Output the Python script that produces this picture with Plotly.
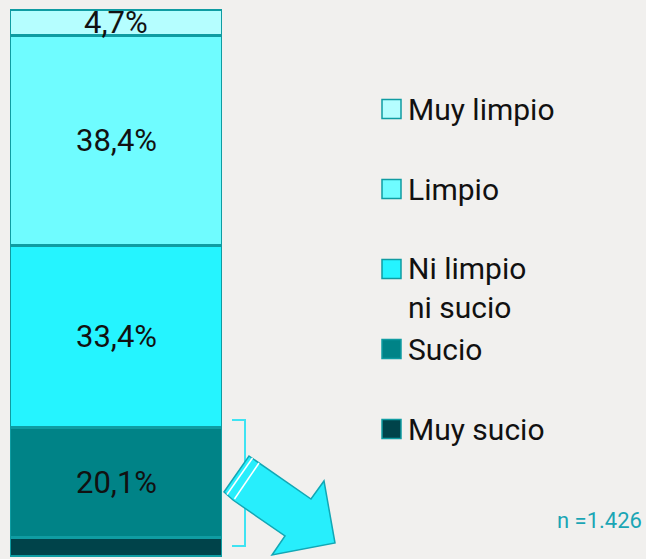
"""
Single stacked bar: perceived cleanliness, with a hand-drawn style legend.
"""

import plotly.graph_objects as go

W, H = 646, 559

# Data (bottom to top of the stack)
categories = ['Muy sucio', 'Sucio', 'Ni limpio<br>ni sucio', 'Limpio', 'Muy limpio']
values = [3.4, 20.1, 33.4, 38.4, 4.7]
labels = ['', '20,1%', '33,4%', '38,4%', '4,7%']
colors = ['#00434a', '#008387', '#25f4ff', '#6ffcff', '#b5feff']

BORDER = '#0f9ca2'
BG = '#f1f0ee'
FONT = "Roboto, 'DejaVu Sans', sans-serif"


def px(x):
    return x / W


def py(y):
    return 1 - y / H


fig = go.Figure()

for cat, val, col in zip(categories, values, colors):
    fig.add_trace(go.Bar(
        x=[0],
        y=[val],
        name=cat.replace('<br>', ' '),
        marker=dict(color=col, line=dict(color=BORDER, width=2.5)),
        width=1,
        showlegend=False,
        hoverinfo='skip'
    ))

# Value labels at the middle of each segment
base = 0
for val, lab in zip(values, labels):
    if lab:
        fig.add_annotation(
            x=0, y=base + val / 2, xref='x', yref='y',
            text=lab, showarrow=False,
            font=dict(size=31, color='#111111', family=FONT)
        )
    base += val

# Legend drawn by hand (top item first)
leg_y = [109, 189, 269, 349, 429]
for cat, col, ly in zip(categories[::-1], colors[::-1], leg_y):
    fig.add_shape(
        type='rect', xref='paper', yref='paper',
        x0=px(382), x1=px(401), y0=py(ly - 9.5), y1=py(ly + 9.5),
        fillcolor=col, line=dict(color=BORDER, width=1.5)
    )
    n_lines = cat.count('<br>') + 1
    fig.add_annotation(
        x=px(406), y=py(ly + (n_lines - 1) * 19), xref='paper', yref='paper',
        xanchor='left', yanchor='middle', align='left',
        text=cat, showarrow=False,
        font=dict(size=30, color='#111111', family=FONT)
    )

# Bracket around the two "dirty" segments
fig.add_shape(
    type='path', xref='paper', yref='paper',
    path=f"M{px(232)},{py(420)} L{px(245)},{py(420)} L{px(245)},{py(546)} L{px(232)},{py(546)}",
    line=dict(color='#3fe3f2', width=2)
)

# Arrow pointing down-right
arrow_pts = [(249, 456), (311, 499), (324, 481), (335, 543),
             (272, 555), (285, 536), (233, 500), (224, 492)]
path = 'M' + ' L'.join(f"{px(x)},{py(y)}" for x, y in arrow_pts) + ' Z'
fig.add_shape(
    type='path', xref='paper', yref='paper', path=path,
    fillcolor='#27eefc', line=dict(color='#12a7b5', width=1.5)
)
for (x0, y0), (x1, y1) in [((252.5, 458), (227, 494.5)), ((259, 463), (234.5, 499))]:
    fig.add_shape(
        type='line', xref='paper', yref='paper',
        x0=px(x0), y0=py(y0), x1=px(x1), y1=py(y1),
        line=dict(color='#ffffff', width=1.5)
    )

fig.add_annotation(
    x=px(644), y=py(520), xref='paper', yref='paper',
    xanchor='right', yanchor='middle',
    text='n =1.426', showarrow=False,
    font=dict(size=22, color='#1aa6b5', family=FONT)
)

# 0 sits at 556 px, 100 at 10 px
scale = (556 - 10) / 100
y_lo = -(H - 556) / scale
y_hi = y_lo + H / scale

fig.update_layout(
    width=W, height=H,
    barmode='stack',
    paper_bgcolor=BG,
    plot_bgcolor=BG,
    margin=dict(l=0, r=0, t=0, b=0),
    font=dict(family=FONT),
    xaxis=dict(domain=[px(10), px(222)], range=[-0.5, 0.5], visible=False, fixedrange=True),
    yaxis=dict(range=[y_lo, y_hi], visible=False, fixedrange=True),
    showlegend=False
)

fig.write_html(
    "out.html",
    config={'displayModeBar': False},
    post_script="document.body.style.margin='0';document.body.style.overflow='hidden';"
)
